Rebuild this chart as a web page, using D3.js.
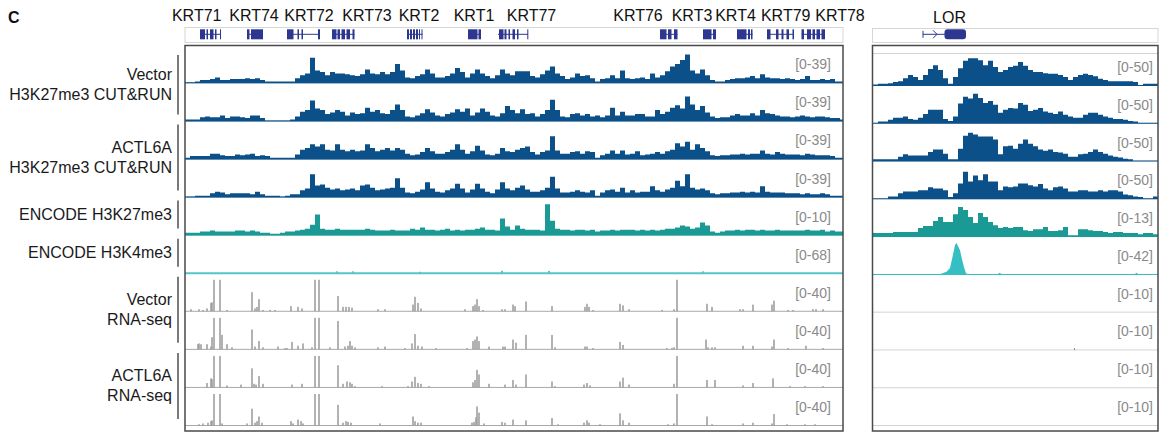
<!DOCTYPE html>
<html>
<head>
<meta charset="utf-8">
<script src="https://cdn.jsdelivr.net/npm/d3@7"></script>
<style>
  body { margin: 0; background: #fff; }
  svg text { font-family: "Liberation Sans", Arial, sans-serif; }
</style>
</head>
<body>
<svg id="chart" width="1159" height="433"></svg>
<script>
// ---- left window (KRT cluster), positions in kb from window start, 5 kb bins ----
var binL = 5;
var vecK27a = [0,0,1,3,3,4,6,3,3,4, 4,4,5,4,5,3,1,1,1,1, 1,1,5,9,11,31,15,13,9,13, 11,11,10,9,8,10,16,11,10,13,
  10,13,23,15,6,5,8,10,16,11, 6,6,8,11,18,13,6,11,16,11, 8,5,9,16,11,9,14,14,14,8, 6,10,15,20,11,8,4,6,11,8,
  9,5,1,4,5,9,5,15,5,4, 5,6,4,11,6,9,14,20,23,28, 35,15,11,16,9,3,1,1,3,4, 5,5,6,8,5,10,6,5,5,4, 5,4,3,4,8,3,3,4,3,4,1,1];
var vecK27b = [1,1,1,4,5,4,4,6,3,5, 5,4,3,6,6,3,0,0,0,0, 0,1,5,11,13,25,15,13,8,10, 13,11,6,10,8,9,16,11,13,9,
  8,13,20,13,5,4,6,9,14,10, 6,5,8,10,14,11,15,6,10,15, 11,6,5,9,18,13,9,14,8,9, 5,8,13,26,13,5,4,8,9,6,
  8,5,6,4,6,16,6,11,6,6, 8,8,5,5,13,8,11,16,19,15, 30,20,13,18,10,5,3,4,4,6, 8,6,6,9,6,13,9,8,6,5, 5,4,5,6,5,4,5,5,4,3,3,1];
var actK27a = [1,3,3,3,3,6,6,4,3,3, 5,4,5,6,3,4,3,1,1,1, 1,1,5,11,13,18,15,18,11,10, 18,11,9,11,9,10,18,13,9,11,
  13,10,13,11,6,4,5,8,13,9, 6,6,8,11,18,11,6,9,16,10, 5,4,6,13,9,8,11,13,15,8, 5,8,10,28,10,6,6,8,9,6,
  9,8,1,4,6,10,6,10,5,6, 9,4,5,6,8,6,9,11,19,15, 21,11,18,13,9,4,3,4,4,5, 5,6,5,6,6,10,6,5,8,6, 5,5,5,4,6,5,4,4,4,3,1,1];
var actK27b = [0,0,1,1,1,4,6,5,3,4, 4,4,4,3,6,3,1,1,1,0, 1,3,3,8,10,28,14,15,11,9, 10,8,9,10,8,14,15,11,8,9,
  10,11,23,11,5,4,6,9,18,10, 6,5,8,10,16,10,5,9,16,10, 6,4,9,18,10,8,11,14,9,6, 6,8,11,25,10,5,5,6,8,6,
  5,8,1,5,8,9,6,11,5,8, 5,6,6,13,8,6,9,11,20,13, 28,11,9,10,8,4,3,4,4,5, 5,6,5,6,5,13,6,5,5,5, 4,4,4,3,4,3,3,4,3,1,1,1];
var encK27 = [.6,.6,.6,1,1,1.3,1,1,1,1, 1.3,1.3,1,1.3,1,.6,.6,.3,.3,.6, 1,1,1.3,1.6,1.9,3.2,6.5,1.9,1.6,1.6,
  1.9,1.6,1.6,1.6,1.6,1.6,1.9,1.6,1.3,1.3, 1.3,1.6,1.3,1.3,1.3,1.9,1.6,2.3,1.6,1.6, 1.3,1.6,1.9,1.3,1.6,1.3,1.6,1.6,1.9,2.3,
  1.6,1.6,1.3,5.2,2.6,1.6,2.9,1.9,1.6,1.6, 1.6,1.3,9.8,4.5,1.9,1.6,1.6,1.3,1.6,1.6, 1.3,1.6,1,1.3,1.3,1.6,1.3,1.6,1.6,1.6,
  1.3,1.6,1.3,1.6,1.3,1.6,1.9,1.9,2.3,2.9, 2.6,1.9,2.3,3.9,2.9,1,.6,1,1.3,1.3, 1.6,1.3,1.6,1.6,1.3,1.6,1.3,1.3,1.6,1.3,
  1.3,1.3,1.3,1.3,1.6,1.3,1.3,1.6,1,1.3,1,1];
var encK4 = [[152,3],[168,3],[235,2],[317,4],[364,4],[518,3]];
// RNA-seq: [kb, value]
var vecRnaA = [[6,2],[14,2],[18,1],[22,3],[26,10],[27,11],[29,60],[35,60],[42,1],[67,24],[70,3],[72,5],[74,15],[78,1],[85,1],[90,1],
  [106,6],[113,5],[117,3],[130,60],[134,60],[153,19],[158,5],[161,5],[164,5],[167,4],[193,2],[200,2],
  [228,8],[230,18],[233,10],[236,3],[280,2],[288,6],[290,8],[292,15],[294,6],[298,1],[317,2],[320,2],[328,8],[330,6],[341,12],
  [367,6],[400,5],[402,9],[404,5],[408,1],[435,9],[438,7],[444,2],[477,1],[489,2],[492,60],[522,9],[527,5],[555,2],[558,2],
  [568,8],[587,8],[589,13],[603,1],[608,1],[628,2],[631,2],[638,2]];
var vecRnaB = [[13,6],[14,7],[16,6],[22,6],[26,3],[27,15],[29,60],[35,60],[37,18],[42,6],[47,2],[67,25],[70,3],[74,10],[78,2],
  [93,3],[100,1],[102,1],[107,9],[113,4],[118,7],[127,2],[130,60],[134,60],[145,2],[153,36],[160,3],[163,4],[165,10],[167,4],
  [170,2],[193,2],[200,3],[220,1],[227,7],[230,19],[233,4],[237,3],[251,1],[282,1],[288,10],[290,12],[292,16],[294,10],[304,3],
  [318,3],[320,3],[328,12],[331,8],[341,18],[367,18],[370,2],[400,3],[402,3],[408,1],[435,9],[438,5],[482,1],[487,1],[489,2],
  [492,60],[521,12],[523,2],[527,2],[530,2],[558,4],[568,4],[587,3],[589,12],[603,1],[621,4],[638,1]];
var actRnaA = [[22,5],[26,11],[27,10],[29,60],[35,60],[42,2],[56,3],[67,24],[69,4],[71,3],[74,14],[78,4],[107,3],[117,4],
  [130,60],[134,60],[153,28],[158,4],[162,7],[165,6],[167,4],[170,1],[197,1],[223,1],[227,7],[230,13],[233,5],[236,4],[244,1],
  [288,6],[290,9],[292,22],[294,16],[304,4],[320,3],[328,9],[331,3],[341,16],[367,7],[370,1],[399,3],[402,5],[405,2],[435,7],
  [438,12],[444,3],[489,4],[492,60],[522,9],[530,9],[558,2],[568,5],[588,11],[605,1],[620,1],[638,1]];
var actRnaB = [[14,1],[18,2],[23,3],[26,5],[27,6],[29,60],[35,60],[37,2],[62,2],[67,21],[70,3],[72,5],[74,11],[77,3],[106,5],
  [108,2],[113,7],[116,5],[118,2],[130,60],[134,60],[153,26],[158,3],[161,5],[163,4],[166,3],[195,2],[228,11],[230,5],[233,3],
  [236,3],[287,3],[289,4],[291,10],[292,24],[294,16],[299,2],[317,4],[320,3],[328,7],[341,6],[367,9],[373,1],[399,3],[402,6],
  [404,3],[415,1],[435,15],[438,6],[444,3],[483,1],[489,2],[492,60],[522,11],[527,1],[558,2],[568,3],[587,2],[589,14],[602,1],
  [620,1],[630,1]];
var maxLeft = [39,39,39,39,10,68,40,40,40,40];

// ---- right window (LOR), positions in kb, 0.2 kb bins ----
var binR = 0.2;
var vecK27aR = [1,2,2,3,5,6,11,16,13,8, 16,26,32,24,11,2,13,27,39,43, 43,40,32,39,29,21,24,29,31,37,
  31,24,21,21,19,18,18,16,13,8, 13,16,18,16,14,10,8,6,6,6, 6,6,5,0,2,2,2];
var vecK27bR = [0,2,2,5,8,8,10,6,5,8, 14,21,21,21,6,3,10,31,42,39, 47,40,32,35,29,16,21,24,23,32,
  29,19,21,24,18,16,14,18,13,10, 8,8,13,16,16,13,10,8,6,6, 5,3,2,0,0,0,0];
var actK27aR = [2,2,2,2,2,6,10,8,8,8, 8,14,18,18,11,2,2,19,40,45, 42,39,39,39,34,10,23,24,19,27,
  34,27,23,18,16,18,14,13,11,6, 6,10,11,14,18,14,11,8,6,5, 3,2,0,0,0,0,0];
var actK27bR = [0,0,0,3,3,8,11,11,11,13, 13,18,16,16,13,2,8,24,43,27, 37,29,39,27,27,13,19,18,19,24,
  24,21,19,23,16,13,18,19,16,11, 11,13,13,11,11,13,11,13,13,11, 6,5,3,2,0,0,3];
var encK27R = [1.3,1.3,1.3,1.3,1.7,1.7,1.7,1.7,1.7,3.4, 4.2,4.2,6.3,8,5.9,5.9,9.2,12.2,10.9,8,
  5.5,9.7,8,5.9,4.6,3.4,3.8,3.4,3.8,3.8, 2.5,2.1,2.9,2.9,3.8,2.1,2.1,2.5,3.8,0.4,
  0.4,2.9,2.9,2.5,2.1,2.1,1.7,1.3,1.7,1.7, 1.3,1.3,1.3,0.8,1.3,1.3,0.8];
var encK4R = [[0,0],[2.70,0],[2.94,3],[3.08,8],[3.18,23],[3.28,39],[3.34,42],[3.48,32],[3.54,23],[3.64,9],[3.72,1],[3.78,0],
  [5.0,0],[5.06,1.4],[5.14,0],[10.48,0],[10.54,1.4],[10.6,0],[11.4,0]];
var vecRnaAR = [], vecRnaBR = [[8.06,0.4]], actRnaAR = [], actRnaBR = [];
var maxRight = [50,50,50,50,13,42,10,10,10,10];

// ---- genes ----
var genesL = [
  {name:'KRT71', label:11.7, start:15, end:36, exons:[[15,20],[21.5,23],[25,28.5],[30,31.5],[35,36]]},
  {name:'KRT74', label:69, start:62, end:78, exons:[[62,64.5],[66,78]]},
  {name:'KRT72', label:124, start:102, end:135, exons:[[102,108.5],[112.5,114],[116.5,118],[133,135]]},
  {name:'KRT73', label:182, start:147, end:169.5, exons:[[147,151.5],[152.5,155],[156.5,160],[161.5,165],[167.5,169.5]]},
  {name:'KRT2', label:234, start:222, end:237.5, exons:[[222,224],[225,227],[228,230],[231,233],[234,235],[236.5,237.5]]},
  {name:'KRT1', label:289, start:283, end:296, exons:[[283,292.5],[293.5,296]]},
  {name:'KRT77', label:346.5, start:313, end:343, exons:[[314,318.5],[319.5,321.5],[323.5,325],[327.5,330],[332,333.5],[342.3,343]]},
  {name:'KRT76', label:453, start:475, end:492.5, exons:[[475,481.5],[483,486.5],[489,492.5]]},
  {name:'KRT3', label:507, start:518, end:531, exons:[[518,526.5],[528,531]]},
  {name:'KRT4', label:550.5, start:552, end:567.5, exons:[[552,561.5],[563,565],[566,567.5]]},
  {name:'KRT79', label:600.7, start:582, end:609, exons:[[582,585.5],[591,593.5],[596.5,598.5],[601.5,604],[607.5,609]]},
  {name:'KRT78', label:655, start:616.5, end:640, exons:[[616.5,619],[622,626],[627.5,630],[631.5,635],[636.5,640]]}
];
var genesR = [{name:'LOR', label:3.06, start:2.0, end:3.72, exons:[[2.86,3.72]], arrows:[2.48]}];

var groups = [
  {lines:['Vector','H3K27me3 CUT&RUN'], tracks:[0,1]},
  {lines:['ACTL6A','H3K27me3 CUT&RUN'], tracks:[2,3]},
  {lines:['ENCODE H3K27me3'], tracks:[4]},
  {lines:['ENCODE H3K4me3'], tracks:[5]},
  {lines:['Vector','RNA-seq'], tracks:[6,7]},
  {lines:['ACTL6A','RNA-seq'], tracks:[8,9]}
];

var blue = '#0b5088', teal = '#1b9a95', cyan = '#35bfc3', rnaGray = '#999999', geneCol = '#2d3790';
var leftTracks = [
  {type:'bins', vals:vecK27a, color:blue}, {type:'bins', vals:vecK27b, color:blue},
  {type:'bins', vals:actK27a, color:blue}, {type:'bins', vals:actK27b, color:blue},
  {type:'bins', vals:encK27, color:teal}, {type:'bars', vals:encK4, color:'#55c5c9', w:2},
  {type:'bars', vals:vecRnaA, color:rnaGray, w:1.5}, {type:'bars', vals:vecRnaB, color:rnaGray, w:1.5},
  {type:'bars', vals:actRnaA, color:rnaGray, w:1.5}, {type:'bars', vals:actRnaB, color:rnaGray, w:1.5}
];
var rightTracks = [
  {type:'bins', vals:vecK27aR, color:blue}, {type:'bins', vals:vecK27bR, color:blue},
  {type:'bins', vals:actK27aR, color:blue}, {type:'bins', vals:actK27bR, color:blue},
  {type:'bins', vals:encK27R, color:teal}, {type:'points', vals:encK4R, color:cyan},
  {type:'bars', vals:vecRnaAR, color:'#777', w:1}, {type:'bars', vals:vecRnaBR, color:'#777', w:1},
  {type:'bars', vals:actRnaAR, color:'#777', w:1}, {type:'bars', vals:actRnaBR, color:'#777', w:1}
];

var svg = d3.select('#chart');
var dataH = 31;
var xL = d3.scaleLinear().domain([0, 658]).range([185, 843]);
var xR = d3.scaleLinear().domain([0, 11.4]).range([873, 1158]);
var baseL = d3.scaleLinear().domain([0, 9]).range([82.3, 425]);
var baseR = d3.scaleLinear().domain([0, 9]).range([85, 425]);

var defs = svg.append('defs');
defs.append('clipPath').attr('id', 'clipL').append('rect')
  .attr('x', 185).attr('y', 45).attr('width', 658).attr('height', 386);
defs.append('clipPath').attr('id', 'clipR').append('rect')
  .attr('x', 873).attr('y', 45).attr('width', 285).attr('height', 386);

function drawTrack(g, x, base, tr, max, bin, side) {
  var y = d3.scaleLinear().domain([0, max]).range([base, base - dataH]).clamp(true);
  var x0 = x.range()[0], x1 = x.range()[1];
  // baseline
  var bl = g.append('line').attr('x1', x0).attr('x2', x1).attr('y1', base + 0.5).attr('y2', base + 0.5);
  if (side == 'right') bl.attr('stroke', '#d3d3d3').attr('stroke-width', 1);
  else if (tr.type == 'bins') bl.attr('stroke', tr.color).attr('stroke-opacity', 0.6).attr('stroke-width', 1);
  else if (tr.color == rnaGray) bl.attr('stroke', '#a8a8a8').attr('stroke-width', 1);
  else bl.attr('stroke', tr.color).attr('stroke-width', 2);

  if (tr.type == 'bins') {
    var pts = tr.vals.map(function(v, i) { return {p: i * bin, v: v}; });
    pts.push({p: tr.vals.length * bin, v: tr.vals[tr.vals.length - 1]});
    var area = d3.area().curve(d3.curveStepAfter)
      .x(function(d) { return x(d.p); })
      .y0(base + 1).y1(function(d) { return y(d.v); });
    g.append('path').datum(pts).attr('d', area).attr('fill', tr.color);
  } else if (tr.type == 'points') {
    var area2 = d3.area()
      .x(function(d) { return x(d[0]); })
      .y0(base + 1).y1(function(d) { return y(d[1]); });
    g.append('path').datum(tr.vals).attr('d', area2).attr('fill', tr.color);
  } else {
    g.selectAll(null).data(tr.vals).enter().append('rect')
      .attr('x', function(d) { return x(d[0]) - tr.w / 2; })
      .attr('width', tr.w)
      .attr('y', function(d) { return y(d[1]); })
      .attr('height', function(d) { return base + 0.5 - y(d[1]); })
      .attr('fill', tr.color);
  }
}

// ---- data tracks ----
var gL = svg.append('g').attr('clip-path', 'url(#clipL)');
leftTracks.forEach(function(tr, i) { drawTrack(gL, xL, baseL(i), tr, maxLeft[i], binL, 'left'); });
var gR = svg.append('g').attr('clip-path', 'url(#clipR)');
gR.append('line').attr('x1', 873).attr('x2', 1158).attr('y1', 53.5).attr('y2', 53.5)
  .attr('stroke', '#d3d3d3');
rightTracks.forEach(function(tr, i) { drawTrack(gR, xR, baseR(i), tr, maxRight[i], binR, 'right'); });

// range labels
svg.append('g').selectAll('text').data(maxLeft).enter().append('text')
  .attr('x', 831).attr('y', function(d, i) { return baseL(i) - 13; })
  .attr('text-anchor', 'end').attr('font-size', 14).attr('fill', '#8a8a8a')
  .text(function(d) { return '[0-' + d + ']'; });
svg.append('g').selectAll('text').data(maxRight).enter().append('text')
  .attr('x', 1153).attr('y', function(d, i) { return baseR(i) - 13; })
  .attr('text-anchor', 'end').attr('font-size', 14).attr('fill', '#8a8a8a')
  .text(function(d) { return '[0-' + d + ']'; });

// panel frames
svg.append('rect').attr('x', 185).attr('y', 45.5).attr('width', 658).attr('height', 385.5)
  .attr('fill', 'none').attr('stroke', '#4a4a4a').attr('stroke-width', 1.5);
svg.append('rect').attr('x', 872.5).attr('y', 45.5).attr('width', 285.5).attr('height', 385.5)
  .attr('fill', 'none').attr('stroke', '#4a4a4a').attr('stroke-width', 1.5);
svg.append('rect').attr('x', 185).attr('y', 27.5).attr('width', 658).attr('height', 15)
  .attr('fill', 'none').attr('stroke', '#d6d6d6');
svg.append('rect').attr('x', 872.5).attr('y', 28.5).attr('width', 285.5).attr('height', 14)
  .attr('fill', 'none').attr('stroke', '#d6d6d6');

// ---- gene models ----
function drawGenes(genes, x, cy, labelY) {
  var g = svg.append('g');
  genes.forEach(function(gene) {
    g.append('line').attr('x1', x(gene.start)).attr('x2', x(gene.end))
      .attr('y1', cy).attr('y2', cy).attr('stroke', geneCol).attr('stroke-width', 1);
    g.selectAll(null).data(gene.exons).enter().append('rect')
      .attr('x', function(d) { return x(d[0]); })
      .attr('width', function(d) { return Math.max(1, x(d[1]) - x(d[0])); })
      .attr('y', cy - 5).attr('height', 10)
      .attr('rx', gene.arrows ? 3 : 0)
      .attr('fill', geneCol);
    if (gene.arrows) {
      g.append('line').attr('x1', x(gene.start)).attr('x2', x(gene.start))
        .attr('y1', cy - 3.5).attr('y2', cy + 3.5).attr('stroke', geneCol);
      gene.arrows.forEach(function(a) {
        g.append('path')
          .attr('d', 'M' + (x(a) - 2) + ',' + (cy - 4) + 'L' + (x(a) + 2) + ',' + cy + 'L' + (x(a) - 2) + ',' + (cy + 4))
          .attr('fill', 'none').attr('stroke', geneCol).attr('stroke-width', 1);
      });
    }
    svg.append('text').attr('x', x(gene.label)).attr('y', labelY)
      .attr('text-anchor', 'middle').attr('font-size', 16).attr('fill', '#111')
      .text(gene.name);
  });
}
drawGenes(genesL, xL, 34.3, 20.7);
drawGenes(genesR, xR, 34.3, 23.3);

// ---- track labels with brackets ----
var lab = svg.append('g');
groups.forEach(function(gr) {
  var first = gr.tracks[0], last = gr.tracks[gr.tracks.length - 1];
  var top = Math.max(55, baseL(first) - 34), bot = baseL(last) - 6;
  lab.append('line').attr('x1', 178).attr('x2', 178).attr('y1', top).attr('y2', bot)
    .attr('stroke', '#333').attr('stroke-width', 1.3);
  var mid = (top + bot) / 2;
  var n = gr.lines.length;
  gr.lines.forEach(function(t, j) {
    lab.append('text').attr('x', 172).attr('y', mid + (j - (n - 1) / 2) * 20 + 5.5)
      .attr('text-anchor', 'end').attr('font-size', 16).attr('fill', '#1a1a1a').text(t);
  });
});

svg.append('text').attr('x', 8).attr('y', 22.7).attr('font-size', 16).attr('font-weight', 'bold')
  .attr('fill', '#111').text('C');
</script>
</body>
</html>
